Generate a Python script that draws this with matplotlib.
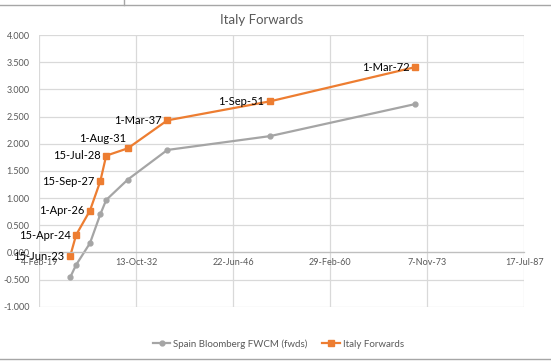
import numpy as np
import matplotlib
matplotlib.use("Agg")
import matplotlib.pyplot as plt
import matplotlib.dates as mdates
from matplotlib.lines import Line2D

plt.rcParams['font.family'] = ['Lato', 'DejaVu Sans']

# forward start dates (same for both curves)
dates = ["2023-06-15", "2024-04-15", "2026-04-01", "2027-09-15", "2028-07-15",
         "2031-08-01", "2037-03-01", "2051-09-01", "2072-03-01"]
date_labels = ["15-Jun-23", "15-Apr-24", "1-Apr-26", "15-Sep-27", "15-Jul-28",
               "1-Aug-31", "1-Mar-37", "1-Sep-51", "1-Mar-72"]
italy = [-0.07, 0.32, 0.77, 1.31, 1.78, 1.915, 2.43, 2.78, 3.41]
spain = [-0.46, -0.23, 0.17, 0.70, 0.965, 1.34, 1.885, 2.14, 2.73]

x = mdates.date2num(np.array(dates, dtype="datetime64[D]"))
xticks = mdates.date2num(np.datetime64("2019-02-04") + np.arange(6) * np.timedelta64(5000, "D"))

fig = plt.figure(figsize=(5.51, 3.63), dpi=100)
ax = fig.add_axes([0.0713, 0.155, 0.8802, 0.7485])

ax.plot(x, spain, color="#A5A5A5", lw=1.6, marker="o", ms=3.5, label="Spain Bloomberg FWCM (fwds)")
ax.plot(x, italy, color="#ED7D31", lw=1.6, marker="s", ms=5, label="Italy Forwards")

# data labels on the Italy curve
offsets = [(-4, 0)] * 9
offsets[5] = (-1, 7)
for xi, yi, lab, off in zip(x, italy, date_labels, offsets):
    ax.annotate(lab, (xi, yi), xytext=off, textcoords="offset points",
                ha="right", va="center", fontsize=8, color="black")

ax.set_xlim(xticks[0], xticks[-1])
ax.set_ylim(-1, 4)
ax.set_xticks(xticks)
ax.xaxis.set_major_formatter(plt.FuncFormatter(
    lambda v, p: "{}-{}".format(mdates.num2date(v).day, mdates.num2date(v).strftime("%b-%y"))))
ax.set_yticks(np.arange(-1, 4.01, 0.5))
ax.yaxis.set_major_formatter(plt.FuncFormatter(lambda v, p: "{:.3f}".format(v)))
ax.tick_params(length=0, labelsize=6.5, labelcolor="#595959")
ax.tick_params(axis="y", pad=7)
ax.tick_params(axis="x", pad=4)

ax.grid(True, color="#D9D9D9", lw=0.9)
ax.set_axisbelow(True)
for s in ["left", "right", "top"]:
    ax.spines[s].set_visible(False)
ax.spines["bottom"].set_position(("data", 0))
ax.spines["bottom"].set_color("#BFBFBF")
ax.spines["bottom"].set_linewidth(0.9)

fig.text(0.474, 0.945, "Italy Forwards", ha="center", va="center", fontsize=9.5, color="#595959")

handles = [Line2D([], [], color="#A5A5A5", lw=1.6, marker="o", ms=3.5),
           Line2D([], [], color="#ED7D31", lw=1.6, marker="s", ms=5)]
fig.legend(handles, ["Spain Bloomberg FWCM (fwds)", "Italy Forwards"], loc="center",
           bbox_to_anchor=(0.505, 0.052), ncol=2, frameon=False, fontsize=7,
           labelcolor="#595959", handlelength=1.8, handletextpad=0.3, columnspacing=1.5)

# spreadsheet cell borders around the chart
fig.add_artist(Line2D([0, 1], [0.986, 0.986], color="#A6A6A6", lw=1))
fig.add_artist(Line2D([0.225, 0.225], [0.986, 1], color="#A6A6A6", lw=1))
fig.add_artist(Line2D([0, 1], [0.011, 0.011], color="#A6A6A6", lw=1))

fig.savefig("out.png", dpi=100)
